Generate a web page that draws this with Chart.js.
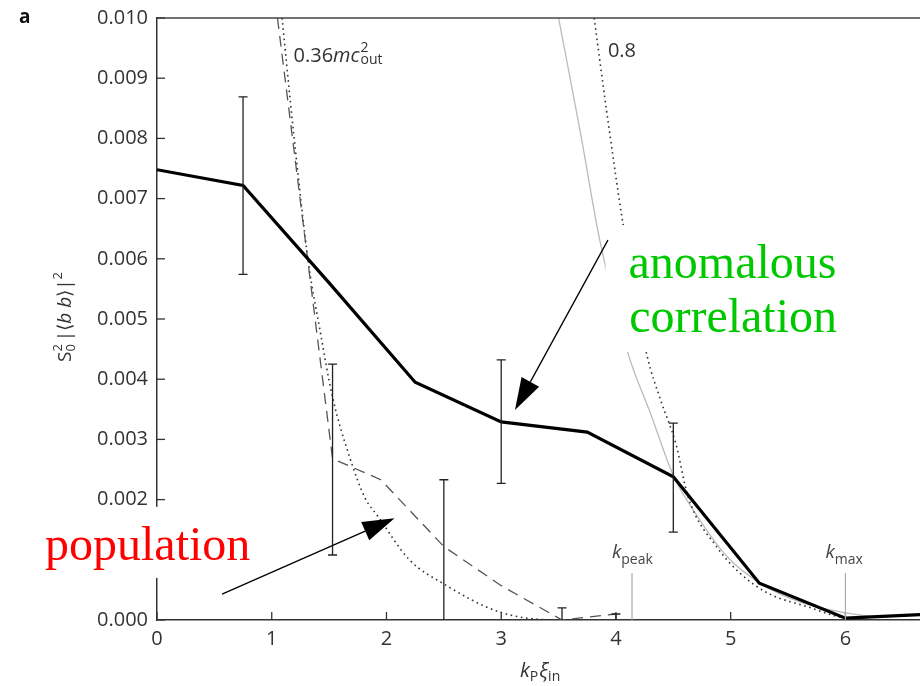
<!DOCTYPE html>
<html>
<head>
<meta charset="utf-8">
<script src="https://cdn.jsdelivr.net/npm/chart.js@4.4.0/dist/chart.umd.min.js"></script>
<style>
  body { margin: 0; background: #fff; }
  #wrap { width: 920px; height: 686px; }
</style>
</head>
<body>
<div id="wrap"><canvas id="chart" width="920" height="686"></canvas></div>
<script>
// measured anomalous correlation (thick black line)
const mainX = [0, 0.75, 1.5, 2.25, 3, 3.75, 4.5, 5.25, 6, 6.75];
const mainY = [0.00748, 0.00722, 0.0056, 0.00395, 0.00329, 0.00312, 0.00238, 0.00061, 0.00003, 0.0001];
const mainErrX = [0.75, 3, 4.5];
const mainErrLow = [0.00574, 0.00227, 0.00146];
const mainErrHigh = [0.00869, 0.00432, 0.00327];

// population (dashed line)
const popX = [1.05, 1.53, 1.95, 2.5, 3.0, 3.53, 4.0];
const popY = [0.0100, 0.00268, 0.00233, 0.00122, 0.00057, 0.0, 0.0001];
const popErrX = [1.53, 2.5, 3.53, 4.0];
const popErrLow = [0.00108, -0.0009, -0.0002, 0];
const popErrHigh = [0.00425, 0.00233, 0.0002, 0.0001];

// theory 0.36 m c_out^2 (dotted)
const th036X = [1.09, 1.19, 1.32, 1.42, 1.53, 1.68, 1.81, 1.93, 2.2, 2.49, 2.99, 3.5, 3.8];
const th036Y = [0.0100, 0.0081, 0.00593, 0.00482, 0.0037, 0.0027, 0.00204, 0.00171, 0.0010, 0.00061, 0.00013, 0.0, 0.0];

// theory 0.8 (dotted)
const th08X = [3.81, 3.93, 4.06, 4.27, 4.39, 4.52, 4.63, 4.88, 5.08, 5.32, 5.67, 6.0, 6.3];
const th08Y = [0.0100, 0.0083, 0.0066, 0.0044, 0.00365, 0.00294, 0.00204, 0.00121, 0.00078, 0.00045, 0.00022, 0.00003, 0.0];

// grey solid curve
const greyX = [3.5, 3.69, 3.86, 4.11, 4.3, 4.5, 4.7, 4.97, 5.25, 5.6, 6.0, 6.3, 6.65];
const greyY = [0.0100, 0.0081, 0.0063, 0.0044, 0.00344, 0.0024, 0.00175, 0.00105, 0.00062, 0.0003, 0.00012, 0.00006, 0.00008];

// markers on the axis
const markX = [4.14, 6.0];
const markTop = [0.00078, 0.00078];
const markName = ['peak', 'max'];

const xTickStep = 1;
const yTickStep = 0.001;

function pts(xs, ys) {
  return xs.map((x, i) => ({ x: x, y: ys[i] }));
}

// draw a row of text pieces with different fonts / offsets
function drawRuns(ctx, x, y, runs) {
  runs.forEach(r => {
    ctx.font = r.font;
    ctx.fillText(r.t, x, y + (r.dy || 0));
    if (!r.stay) x += ctx.measureText(r.t).width + (r.gap || 0);
  });
  return x;
}

function arrow(ctx, x1, y1, x2, y2) {
  const ang = Math.atan2(y2 - y1, x2 - x1);
  const len = 32, half = 10;
  const bx = x2 - len * Math.cos(ang), by = y2 - len * Math.sin(ang);
  ctx.strokeStyle = '#000';
  ctx.lineWidth = 1.3;
  ctx.beginPath();
  ctx.moveTo(x1, y1);
  ctx.lineTo(bx, by);
  ctx.stroke();
  ctx.fillStyle = '#000';
  ctx.beginPath();
  ctx.moveTo(x2, y2);
  ctx.lineTo(bx + half * Math.sin(ang), by - half * Math.cos(ang));
  ctx.lineTo(bx - half * Math.sin(ang), by + half * Math.cos(ang));
  ctx.closePath();
  ctx.fill();
}

const overlay = {
  id: 'overlay',
  afterDraw(chart) {
    const ctx = chart.ctx;
    const xs = chart.scales.x, ys = chart.scales.y, a = chart.chartArea;
    const px = v => xs.getPixelForValue(v);
    const py = v => ys.getPixelForValue(v);
    ctx.save();

    // top frame line
    ctx.strokeStyle = '#444';
    ctx.lineWidth = 1.5;
    ctx.beginPath();
    ctx.moveTo(a.left, a.top);
    ctx.lineTo(a.right, a.top);
    ctx.stroke();

    // ticks pointing inside
    ctx.strokeStyle = '#333';
    ctx.lineWidth = 1.3;
    ys.ticks.forEach(t => {
      const y = py(t.value);
      ctx.beginPath();
      ctx.moveTo(a.left, y);
      ctx.lineTo(a.left + 8, y);
      ctx.stroke();
    });
    xs.ticks.forEach(t => {
      const x = px(t.value);
      ctx.beginPath();
      ctx.moveTo(x, a.bottom);
      ctx.lineTo(x, a.bottom - 8);
      ctx.stroke();
    });

    // error bars
    function bars(ex, lo, hi) {
      ctx.strokeStyle = '#222';
      ctx.lineWidth = 1.3;
      ex.forEach((x, i) => {
        const X = px(x);
        const yl = py(Math.max(lo[i], 0)), yh = py(hi[i]);
        ctx.beginPath();
        ctx.moveTo(X, yl);
        ctx.lineTo(X, yh);
        ctx.moveTo(X - 4.5, yh);
        ctx.lineTo(X + 4.5, yh);
        if (lo[i] > 0) {
          ctx.moveTo(X - 4.5, yl);
          ctx.lineTo(X + 4.5, yl);
        }
        ctx.stroke();
      });
    }
    bars(mainErrX, mainErrLow, mainErrHigh);
    bars(popErrX, popErrLow, popErrHigh);

    // k_peak / k_max markers
    ctx.strokeStyle = '#aaa';
    ctx.lineWidth = 1.2;
    ctx.fillStyle = '#444';
    markX.forEach((x, i) => {
      const X = px(x);
      ctx.beginPath();
      ctx.moveTo(X, py(0));
      ctx.lineTo(X, py(markTop[i]));
      ctx.stroke();
      drawRuns(ctx, X - 20, py(markTop[i]) - 15, [
        { t: 'k', font: 'italic 19px "Open Sans"' },
        { t: markName[i], font: '14px "Open Sans"', dy: 6 }
      ]);
    });

    // curve labels
    ctx.fillStyle = '#333';
    drawRuns(ctx, px(1.19), py(0.00927), [
      { t: '0.36', font: '20px "Open Sans"' },
      { t: 'mc', font: 'italic 20px "Open Sans"', gap: 1 },
      { t: '2', font: '14px "Open Sans"', dy: -10, stay: true },
      { t: 'out', font: '14px "Open Sans"', dy: 2 }
    ]);
    drawRuns(ctx, px(3.93), py(0.00935), [{ t: '0.8', font: '20px "Open Sans"' }]);

    // annotation boxes and texts
    ctx.fillStyle = '#fff';
    let l = px(3.91), r = px(5.95), t = py(0.00656), b = py(0.00445);
    ctx.fillRect(l, t, r - l, b - t);
    l = px(-1.02); r = px(0.854); t = py(0.00188); b = py(0.0007);
    ctx.fillRect(l, t, r - l, b - t);

    ctx.font = '48px "Liberation Serif"';
    ctx.textBaseline = 'alphabetic';
    ctx.fillStyle = '#00c800';
    ctx.fillText('anomalous', px(4.11), py(0.00568));
    ctx.fillText('correlation', px(4.115), py(0.00478));
    ctx.fillStyle = '#ff0000';
    ctx.fillText('population', px(-0.976), py(0.001));

    arrow(ctx, px(3.93), py(0.00631), px(3.12), py(0.00349));
    arrow(ctx, px(0.567), py(0.00043), px(2.07), py(0.00169));

    // axis titles
    ctx.fillStyle = '#333';
    drawRuns(ctx, 520, 677, [
      { t: 'k', font: 'italic 20px "Open Sans"' },
      { t: 'P', font: '14px "Open Sans"', dy: 4, gap: 1 },
      { t: 'ξ', font: 'italic 20px "Open Sans"' },
      { t: 'in', font: '14px "Open Sans"', dy: 4 }
    ]);

    ctx.save();
    ctx.translate(71, 362);
    ctx.rotate(-Math.PI / 2);
    drawRuns(ctx, 0, 0, [
      { t: 'S', font: '19px "Open Sans"' },
      { t: '2', font: '13px "Open Sans"', dy: -9, stay: true },
      { t: '0', font: '13px "Open Sans"', dy: 4, gap: 3 },
      { t: '|⟨', font: '19px "Open Sans"' },
      { t: 'b b', font: 'italic 19px "Open Sans"' },
      { t: '⟩|', font: '19px "Open Sans"' },
      { t: '2', font: '13px "Open Sans"', dy: -9 }
    ]);
    ctx.restore();

    ctx.fillStyle = '#111';
    ctx.font = 'bold 19px "Open Sans"';
    ctx.fillText('a', 19, 23);
    ctx.restore();
  }
};

new Chart(document.getElementById('chart'), {
  type: 'line',
  data: {
    datasets: [
      {
        data: pts(mainX, mainY),
        borderColor: '#000',
        borderWidth: 3.2,
        pointRadius: 0,
        borderJoinStyle: 'miter'
      },
      {
        data: pts(popX, popY),
        borderColor: '#555',
        borderWidth: 1.3,
        borderDash: [11, 7],
        pointRadius: 0
      },
      {
        data: pts(th036X, th036Y),
        borderColor: '#333',
        borderWidth: 1.6,
        borderDash: [1.6, 3.6],
        pointRadius: 0,
        cubicInterpolationMode: 'monotone'
      },
      {
        data: pts(th08X, th08Y),
        borderColor: '#333',
        borderWidth: 1.6,
        borderDash: [1.6, 3.6],
        pointRadius: 0,
        cubicInterpolationMode: 'monotone'
      },
      {
        data: pts(greyX, greyY),
        borderColor: '#bbb',
        borderWidth: 1.3,
        pointRadius: 0,
        cubicInterpolationMode: 'monotone'
      }
    ]
  },
  options: {
    responsive: false,
    animation: false,
    layout: { padding: { top: 18, right: 0, left: 0, bottom: 0 } },
    plugins: { legend: { display: false }, tooltip: { enabled: false } },
    scales: {
      x: {
        type: 'linear',
        min: 0,
        max: 6.65,
        afterFit: s => { s.height = 66; },
        grid: { display: false },
        border: { display: true, color: '#333', width: 1.5 },
        ticks: {
          stepSize: xTickStep,
          includeBounds: false,
          maxRotation: 0,
          padding: -1,
          color: '#333',
          font: { family: 'Open Sans', size: 20 }
        }
      },
      y: {
        min: 0,
        max: 0.010,
        afterFit: s => { s.width = 157; },
        grid: { display: false },
        border: { display: true, color: '#333', width: 1.5 },
        ticks: {
          stepSize: yTickStep,
          padding: 1,
          color: '#333',
          font: { family: 'Open Sans', size: 20 },
          callback: v => v.toFixed(3)
        }
      }
    }
  },
  plugins: [overlay]
});
</script>
</body>
</html>
